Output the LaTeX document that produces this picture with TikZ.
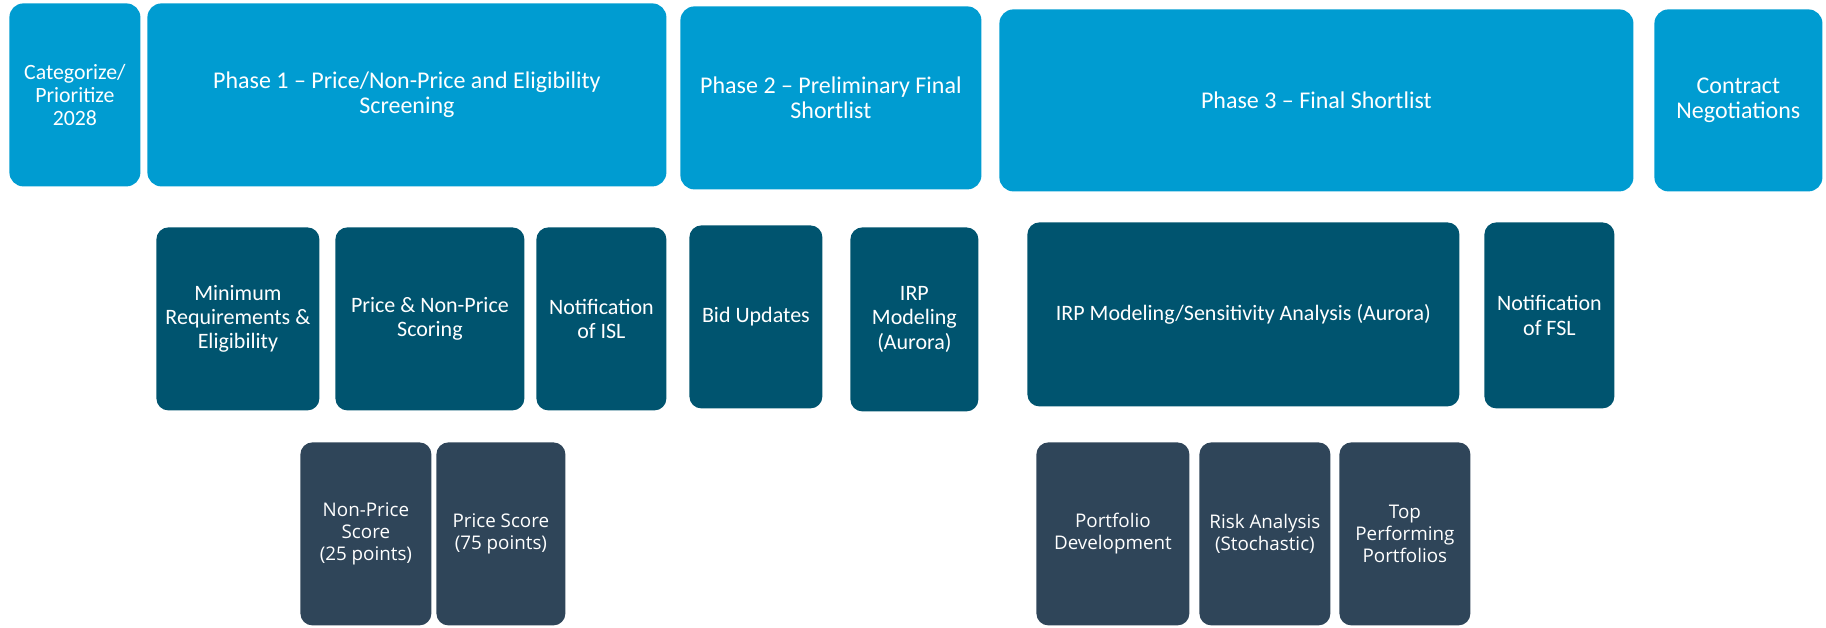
\documentclass[tikz,border=0pt]{standalone}
\usepackage{fontspec}
\setmainfont{Carlito}
\newfontfamily\lowfont{Open Sans}
\usepackage{tikz}
\usetikzlibrary{positioning}
\definecolor{phaseblue}{HTML}{009CD1}
\definecolor{stepteal}{HTML}{00546F}
\definecolor{subslate}{HTML}{2F4559}
% tile: name, style, x1, y1, x2, y2, text (pixel grid)
\newcommand{\tile}[7]{\node[#2, anchor=north west, minimum width={(#5-#3)*0.5pt}, minimum height={(#6-#4)*0.5pt}] (#1) at (#3,#4) {#7};}

\begin{document}
\begin{tikzpicture}[x=0.5pt, y=-0.5pt,
    tilebase/.style={inner sep=0pt, align=center, text=white},
    phasebox/.style={tilebase, fill=phaseblue, rounded corners=7pt, font=\fontsize{12}{12.8}\selectfont},
    stepbox/.style={tilebase, fill=stepteal, rounded corners=6pt, font=\fontsize{11}{12.2}\selectfont},
    subbox/.style={tilebase, fill=subslate, rounded corners=6pt, font=\lowfont\fontsize{9.4}{11}\selectfont}]
  \useasboundingbox (0,0) rectangle (1826,627);
  % Fases
  \tile{cat}{phasebox, font=\fontsize{10.9}{11.4}\selectfont}{9}{3}{140}{186}{Categorize/\\Prioritize\\2028}
  \tile{ph1}{phasebox}{147}{3}{666}{186}{Phase 1 -- Price/Non-Price and Eligibility\\Screening}
  \tile{ph2}{phasebox}{680}{6}{981}{189}{Phase 2 -- Preliminary Final\\Shortlist}
  \tile{ph3}{phasebox}{999}{9}{1633}{191}{Phase 3 -- Final Shortlist}
  \tile{con}{phasebox}{1654}{9}{1822}{191}{Contract\\Negotiations}
  % Pasos
  \tile{minreq}{stepbox}{156}{227}{319}{410}{Minimum\\Requirements \&\\Eligibility}
  \tile{scoring}{stepbox}{335}{227}{524}{410}{Price \& Non-Price\\Scoring}
  \tile{isl}{stepbox}{536}{227}{666}{410}{Notification\\of ISL}
  \tile{bid}{stepbox}{689}{225}{822}{408}{Bid Updates}
  \tile{irp}{stepbox}{850}{227}{978}{411}{IRP\\Modeling\\(Aurora)}
  \tile{sens}{stepbox}{1027}{222}{1459}{406}{IRP Modeling/Sensitivity Analysis (Aurora)}
  \tile{fsl}{stepbox}{1484}{222}{1614}{408}{Notification\\of FSL}
  % Detalle
  \tile{nps}{subbox}{300}{442}{431}{625}{Non-Price\\Score\\(25 points)}
  \tile{ps}{subbox}{436}{442}{565}{625}{Price Score\\(75 points)}
  \tile{port}{subbox}{1036}{442}{1189}{625}{Portfolio\\Development}
  \tile{risk}{subbox}{1199}{442}{1330}{625}{Risk Analysis\\(Stochastic)}
  \tile{top}{subbox}{1339}{442}{1470}{625}{Top\\Performing\\Portfolios}
\end{tikzpicture}
\end{document}
